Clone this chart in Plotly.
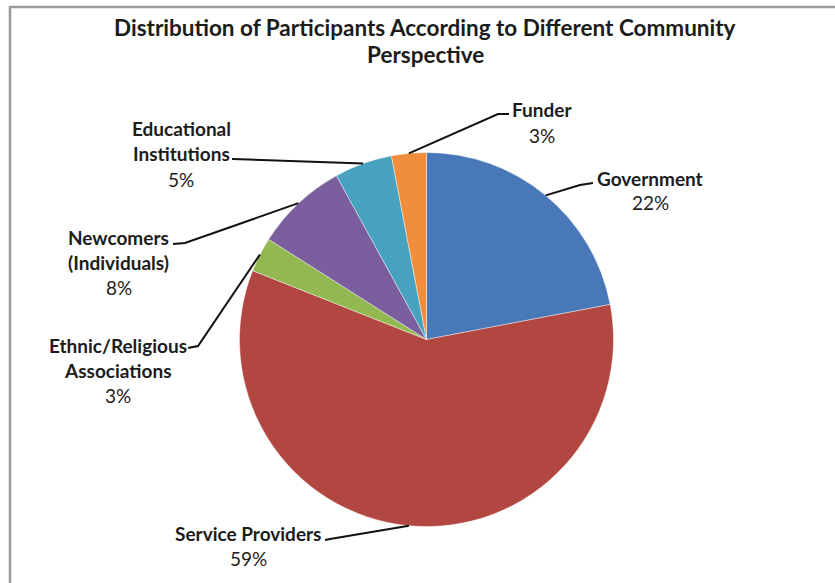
import math
import plotly.graph_objects as go

# ---- data ----
categories = ["Government", "Service Providers", "Ethnic/Religious Associations",
              "Newcomers (Individuals)", "Educational Institutions", "Funder"]
label_lines = [["Government"], ["Service Providers"], ["Ethnic/Religious", "Associations"],
               ["Newcomers", "(Individuals)"], ["Educational", "Institutions"], ["Funder"]]
values = [22, 59, 3, 8, 5, 3]
title_lines = ["Distribution of Participants According to Different Community", "Perspective"]

# ---- style / layout ----
colors = ["#4978B8", "#B24641", "#93B852", "#7B5E9E", "#46A2BE", "#F08E3C"]
W, H = 835, 583
CX, CY, R = 426.5, 339.5, 187.0
FONT = "Lato"
TXT = "#1c1c1c"
LINE_GAP = 25
# per label: leader line points after the slice anchor (pixels), text centre x, first line y
label_style = [
    dict(pts=[(580, 185), (593, 183)], tx=650, ty=178),
    dict(pts=[(330, 539), (325, 540)], tx=248, ty=533),
    dict(pts=[(198, 346), (188, 348)], tx=118, ty=345),
    dict(pts=[(185, 243), (173, 244)], tx=119, ty=237),
    dict(pts=[(232, 159)], tx=181, ty=129),
    dict(pts=[(498, 114), (509, 114)], tx=542, ty=110),
]


def px(x):
    return x / W


def py(y):
    return 1 - y / H


fig = go.Figure(go.Pie(
    labels=categories, values=values, sort=False, direction="clockwise",
    marker=dict(colors=colors, line=dict(color="rgba(255,255,255,0.7)", width=0.6)),
    textinfo="none", showlegend=False,
    domain=dict(x=[px(CX - R), px(CX + R)], y=[py(CY + R), py(CY - R)]),
))

annotations = []
shapes = []
total = sum(values)
cum = 0
for i, v in enumerate(values):
    mid = (cum + v / 2) / total * 2 * math.pi
    cum += v
    ax = CX + R * math.sin(mid)
    ay = CY - R * math.cos(mid)
    st = label_style[i]
    pts = [(ax, ay)] + st["pts"]
    path = "M " + " L ".join(f"{px(x):.5f},{py(y):.5f}" for x, y in pts)
    shapes.append(dict(type="path", path=path, xref="paper", yref="paper",
                       line=dict(color="#111111", width=2)))
    lines = label_lines[i] + [f"{v}%"]
    for k, t in enumerate(lines):
        annotations.append(dict(
            text=f"<b>{t}</b>" if k < len(lines) - 1 else t,
            x=px(st["tx"]), y=py(st["ty"] + k * LINE_GAP), xref="paper", yref="paper",
            xanchor="center", yanchor="middle", showarrow=False,
            font=dict(family=FONT, size=19, color=TXT)))

for k, t in enumerate(title_lines):
    annotations.append(dict(
        text=f"<b>{t}</b>", x=px(425), y=py(28 + k * 27), xref="paper", yref="paper",
        xanchor="center", yanchor="middle", showarrow=False,
        font=dict(family=FONT, size=22.5, color=TXT)))

# chart frame
shapes.append(dict(type="rect", xref="paper", yref="paper",
                   x0=px(10), x1=px(W + 10), y0=py(H + 10), y1=py(7),
                   line=dict(color="#9a9a9a", width=2.5)))

fig.update_layout(
    width=W, height=H, margin=dict(l=0, r=0, t=0, b=0),
    paper_bgcolor="white", plot_bgcolor="white",
    annotations=annotations, shapes=shapes,
)

fig.write_html("out.html", config={"displayModeBar": False},
               post_script="document.body.style.margin='0';document.body.style.overflow='hidden';")
